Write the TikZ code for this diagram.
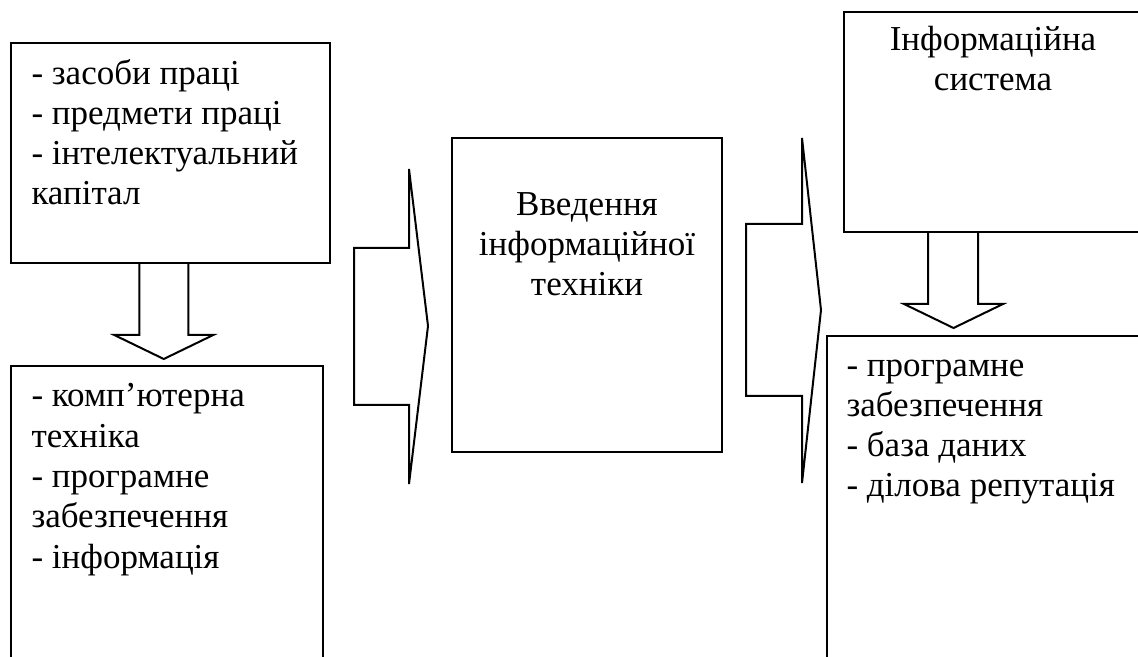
\documentclass[tikz,border=0pt]{standalone}
\usepackage{fontspec}
\setmainfont{Liberation Serif}
\usetikzlibrary{fit}
\tikzstyle{blok}    = [draw, line width=0.8pt, inner sep=0pt]
\tikzstyle{txt}     = [inner sep=0pt, align=left, font=\fontsize{14}{16.1}\selectfont]
\tikzstyle{strilka} = [line width=0.8pt, line join=miter]

\begin{document}
\begin{tikzpicture}[x=0.4pt, y=-0.4pt]
	\useasboundingbox (0,0) rectangle (1138,657);
	\clip (0,0) rectangle (1138,657);
	% bloky
	\node[blok, fit={(11,43) (330,263)}] (zaso) {};
	\node[blok, fit={(11,366) (323,700)}] (komp) {};
	\node[blok, fit={(452,138) (722,452)}] (vved) {};
	\node[blok, fit={(844,12) (1142,232)}] (syst) {};
	\node[blok, fit={(827,336) (1150,700)}] (prog) {};
	% teksty (base = ostannij rjadok)
	\node[txt, anchor=base west] (zasotxt) at ([shift={(21,163)}]zaso.north west) {- засоби праці\\- предмети праці\\- інтелектуальний\\капітал};
	\node[txt, anchor=base west] (komptxt) at ([shift={(21,203)}]komp.north west) {- комп’ютерна\\техніка\\- програмне\\забезпечення\\- інформація};
	\node[txt, anchor=base, align=center] (vvedtxt) at ([shift={(0,159)}]vved.north) {Введення\\інформаційної\\техніки};
	\node[txt, anchor=base, align=center] (systtxt) at ([shift={(0,80)}]syst.north) {Інформаційна\\система};
	\node[txt, anchor=base west] (progtxt) at ([shift={(20,162)}]prog.north west) {- програмне\\забезпечення\\- база даних\\- ділова репутація};
	% strilky
	\draw[strilka] ([xshift=-12.5]zaso.south) -- ++(0,71) -- ++(-25,0) -- ++(49.5,24) -- ++(49.5,-24) -- ++(-25,0) -- ++(0,-71);
	\draw[strilka] ([xshift=-26]syst.south) -- ++(0,71) -- ++(-24,0) -- ++(49.5,24) -- ++(49.5,-24) -- ++(-25,0) -- ++(0,-71);
	\draw[strilka] (354,248) -- (409,248) -- (409,169) -- (428,326) -- (409,484) -- (409,405) -- (354,405) -- cycle;
	\draw[strilka] (746,224) -- (802,224) -- (802,138) -- (821,310) -- (802,483) -- (802,396) -- (746,396) -- cycle;
\end{tikzpicture}
\end{document}
